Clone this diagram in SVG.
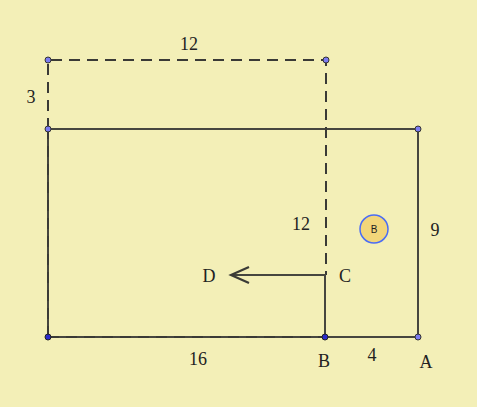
<svg xmlns="http://www.w3.org/2000/svg" width="477" height="407" viewBox="0 0 477 407">
<style>
.s{stroke:#46463f;stroke-width:2;fill:none}
.d{stroke:#3a3a36;stroke-width:2;fill:none;stroke-dasharray:11,7}
.t{font-family:"Liberation Serif",serif;font-size:18px;fill:#222;text-anchor:middle}
.p{fill:#7c7cf0;stroke:#333;stroke-width:1}
.pd{fill:#2a2acc;stroke:#222;stroke-width:1}
</style>
<defs>
<marker id="ah" markerWidth="22" markerHeight="20" refX="19" refY="10" orient="auto" markerUnits="userSpaceOnUse">
<path d="M1,2 L19,10 L1,18" fill="none" stroke="#3a3a36" stroke-width="2.2"/>
</marker>
</defs>
<rect width="477" height="407" fill="#f3efb7"/>
<g id="connectors">
<path class="s" d="M48,129 H418 V337 H48 Z"/>
<path class="d" d="M48,129 V60 H326 V275"/>
<path class="d" d="M48,337 V129"/>
<path class="d" d="M48,337 H326"/>
<path class="s" d="M325,337 V275 H231" stroke-width="2.4" marker-end="url(#ah)"/>
</g>
<g id="node-circle">
<circle cx="374" cy="229" r="14" fill="#f2d67a" stroke="#4a6cf5" stroke-width="1.5"/>
<text x="374" y="233" font-family="Liberation Sans,sans-serif" font-size="10" fill="#222" text-anchor="middle">B</text>
</g>
<g id="points">
<circle class="p" cx="48" cy="60" r="3"/>
<circle class="p" cx="326" cy="60" r="3"/>
<circle class="p" cx="48" cy="129" r="3"/>
<circle class="p" cx="418" cy="129" r="3"/>
<circle class="p" cx="418" cy="337" r="3"/>
<circle class="pd" cx="48" cy="337" r="3"/>
<circle class="pd" cx="325" cy="337" r="3"/>
</g>
<g id="labels">
<text class="t" x="189" y="50">12</text>
<text class="t" x="31" y="103">3</text>
<text class="t" x="301" y="230">12</text>
<text class="t" x="435" y="236">9</text>
<text class="t" x="209" y="282">D</text>
<text class="t" x="345" y="282">C</text>
<text class="t" x="198" y="365">16</text>
<text class="t" x="324" y="367">B</text>
<text class="t" x="372" y="361">4</text>
<text class="t" x="426" y="368">A</text>
</g>
</svg>
